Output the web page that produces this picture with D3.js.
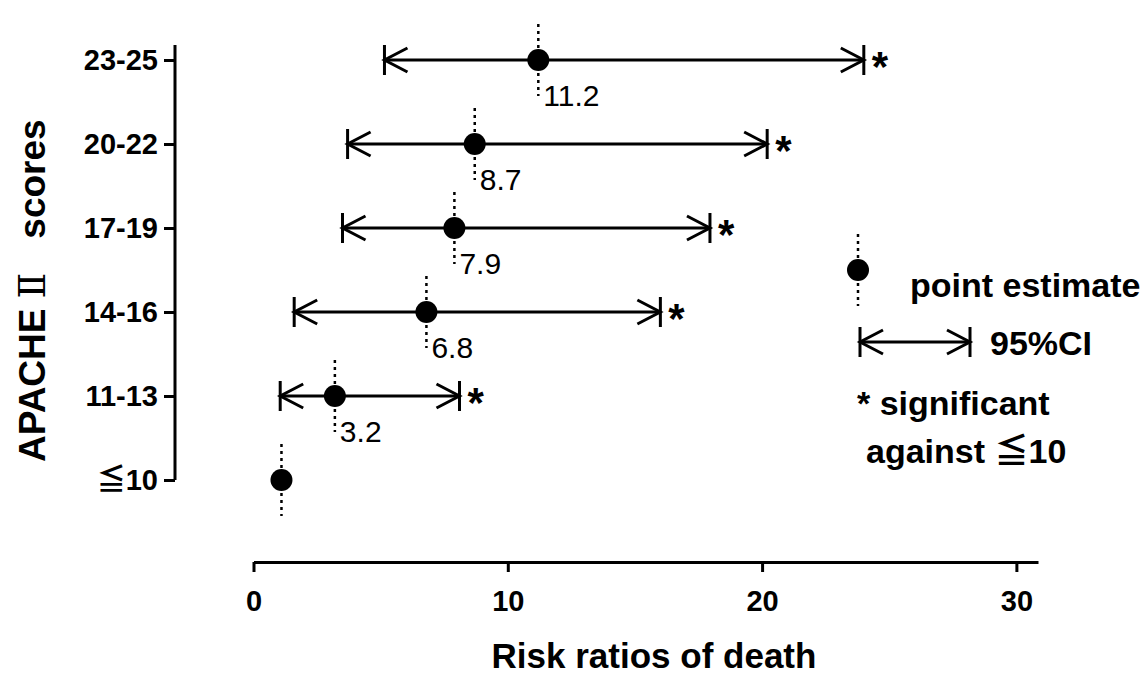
<!DOCTYPE html>
<html>
<head>
<meta charset="utf-8">
<script src="https://cdn.jsdelivr.net/npm/d3@7"></script>
<style>
  body { margin: 0; background: #fff; }
  text { font-family: "Liberation Sans", "Noto Sans CJK JP", sans-serif; fill: #000; }
</style>
</head>
<body>
<script>
// data
let groups = ["23-25", "20-22", "17-19", "14-16", "11-13", "\u226610"];
let estimates = [11.2, 8.7, 7.9, 6.8, 3.2, 1.1];
let ciLow = [5.15, 3.7, 3.5, 1.6, 1.05, null];
let ciHigh = [24.0, 20.2, 17.95, 16.0, 8.1, null];
let labels = ["11.2", "8.7", "7.9", "6.8", "3.2", ""];
let significant = [true, true, true, true, true, false];
let xTicks = [0, 10, 20, 30];

let width = 1145, height = 675;
let svg, x, y;

svg = d3.select("body").append("svg")
  .attr("width", width)
  .attr("height", height);

// scales
x = d3.scaleLinear().domain([0, 30.85]).range([253.5, 1038]);
y = d3.scalePoint().domain(groups).range([60, 480]);

// x axis
let xAxis = svg.append("g")
  .attr("transform", "translate(0,562)")
  .call(d3.axisBottom(x).tickValues(xTicks).tickSize(10).tickSizeOuter(0).tickPadding(18));
xAxis.select(".domain").attr("stroke-width", 3);
xAxis.selectAll(".tick line").attr("stroke-width", 3);
xAxis.selectAll(".tick text")
  .style("font-size", "29px").style("font-weight", "bold")
  .style("font-family", "'Liberation Sans', sans-serif");

// y axis
let yAxis = svg.append("g")
  .attr("transform", "translate(175,0)")
  .call(d3.axisLeft(y).tickSize(11).tickSizeOuter(0).tickPadding(6));
yAxis.select(".domain").attr("d", "M0,45V480").attr("stroke-width", 3);
yAxis.selectAll(".tick line").attr("stroke-width", 3);
yAxis.selectAll(".tick text")
  .style("font-size", "29px").style("font-weight", "bold")
  .style("font-family", "'Liberation Sans', 'Noto Sans CJK JP', sans-serif");

// axis titles
svg.append("text")
  .attr("x", 654)
  .attr("y", 668)
  .attr("text-anchor", "middle")
  .style("font-size", "35px").style("font-weight", "bold")
  .text("Risk ratios of death");

let ytitle = svg.append("text")
  .attr("transform", "translate(45,462) rotate(-90)")
  .style("font-size", "37px").style("font-weight", "bold");
ytitle.append("tspan").text("APACHE");
ytitle.append("tspan").attr("dx", 10)
  .style("font-family", "'DejaVu Serif', serif").style("font-weight", "normal")
  .style("font-size", "38px")
  .text("\u2161");
ytitle.append("tspan").attr("dx", 34).text("scores");

// helper: CI with arrow ends
function drawCI(g, x1, x2, cy) {
  g.append("line").attr("x1", x1).attr("x2", x2).attr("y1", cy).attr("y2", cy)
    .attr("stroke", "#000").attr("stroke-width", 3);
  [[x1, 1], [x2, -1]].forEach(function(p) {
    g.append("line").attr("x1", p[0]).attr("x2", p[0]).attr("y1", cy - 15).attr("y2", cy + 15)
      .attr("stroke", "#000").attr("stroke-width", 3);
    g.append("path")
      .attr("d", "M" + (p[0] + p[1] * 23) + "," + (cy - 12) + "L" + p[0] + "," + cy +
                 "L" + (p[0] + p[1] * 23) + "," + (cy + 12))
      .attr("fill", "none").attr("stroke", "#000").attr("stroke-width", 3);
  });
}

function drawPoint(g, cx, cy) {
  g.append("line").attr("x1", cx).attr("x2", cx).attr("y1", cy - 36).attr("y2", cy + 36)
    .attr("stroke", "#000").attr("stroke-width", 2.5).attr("stroke-dasharray", "3,4");
  g.append("circle").attr("cx", cx).attr("cy", cy).attr("r", 11).attr("fill", "#000");
}

let marks = svg.append("g");
groups.forEach(function(gname, i) {
  let cy = y(gname);
  if (ciLow[i] != null) drawCI(marks, x(ciLow[i]), x(ciHigh[i]), cy);
  drawPoint(marks, x(estimates[i]), cy);
  marks.append("text")
    .attr("x", x(estimates[i]) + 5).attr("y", cy + 46)
    .style("font-size", "30px")
    .text(labels[i]);
  if (significant[i]) {
    marks.append("text")
      .attr("x", x(ciHigh[i]) + 8).attr("y", cy + 21)
      .style("font-size", "42px").style("font-weight", "bold")
      .text("*");
  }
});

// legend
let legend = svg.append("g");
drawPoint(legend, 858, 270);
legend.append("text").attr("x", 910).attr("y", 297)
  .style("font-size", "34px").style("font-weight", "bold").text("point estimate");
drawCI(legend, 860, 970, 342);
legend.append("text").attr("x", 990).attr("y", 355)
  .style("font-size", "34px").style("font-weight", "bold").text("95%CI");
legend.append("text").attr("x", 857).attr("y", 415)
  .style("font-size", "34px").style("font-weight", "bold").text("* significant");
legend.append("text").attr("x", 866).attr("y", 463)
  .style("font-size", "34px").style("font-weight", "bold").text("against \u226610");
</script>
</body>
</html>
